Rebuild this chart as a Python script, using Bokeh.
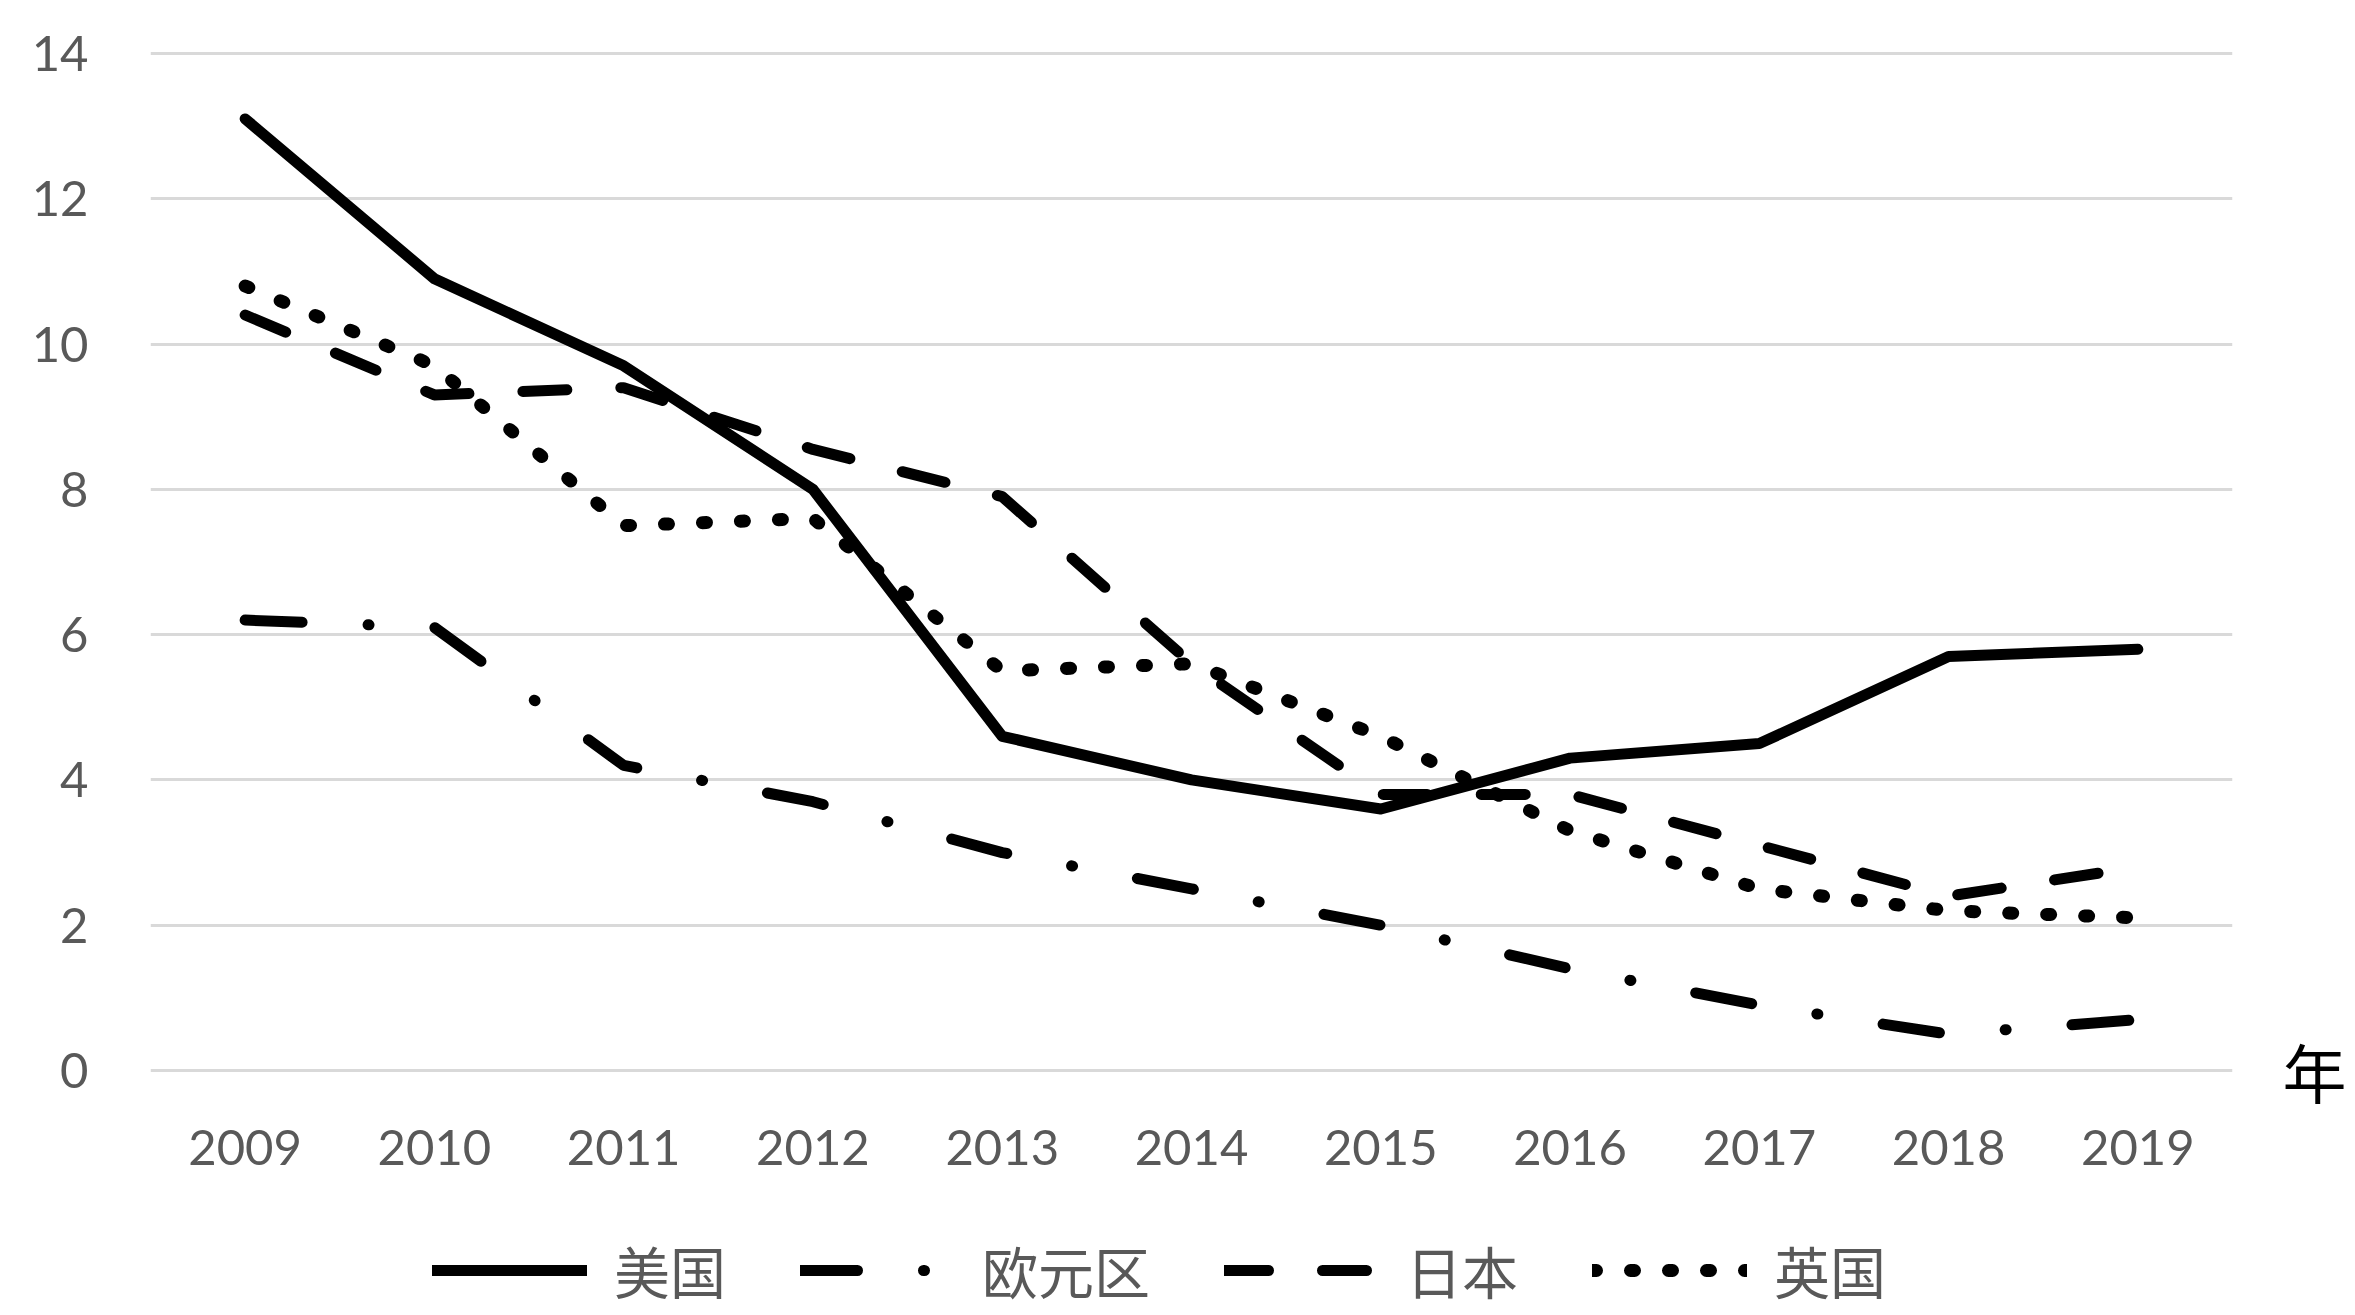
from bokeh.plotting import figure
from bokeh.layouts import column
from bokeh.models import (FactorRange, Range1d, Legend, LegendItem, LinearAxis,
                          FixedTicker, SingleIntervalTicker)
from bokeh.embed import file_html
from bokeh.resources import INLINE

years = ["2009", "2010", "2011", "2012", "2013", "2014", "2015", "2016", "2017", "2018", "2019"]
usa = [13.1, 10.9, 9.7, 8.0, 4.6, 4.0, 3.6, 4.3, 4.5, 5.7, 5.8]
euro = [6.2, 6.1, 4.2, 3.7, 3.0, 2.5, 2.0, 1.4, 0.9, 0.5, 0.7]
japan = [10.4, 9.3, 9.4, 8.55, 7.9, 5.6, 3.8, 3.8, 3.1, 2.4, 2.8]
uk = [10.8, 9.7, 7.5, 7.6, 5.5, 5.6, 4.6, 3.3, 2.5, 2.2, 2.1]
names = ["美国", "欧元区", "日本", "英国"]
unit_label = "年"

styles = [dict(line_width=11),
          dict(line_width=11, line_dash="57 66 1 66"),
          dict(line_width=11, line_dash="44 54"),
          dict(line_width=13, line_dash="4 34")]
common = dict(line_color="black", line_join="round", line_cap="round")

# small pad so the 0 and 14 gridlines are not clipped at the frame edges
pad = 2 / 72.64
p = figure(x_range=FactorRange(*years), y_range=Range1d(-pad, 14 + pad),
           frame_width=2082, frame_height=1021,
           min_border_left=150, min_border_right=115, min_border_top=51, min_border_bottom=113,
           output_backend="svg", toolbar_location=None, background_fill_color="white",
           border_fill_color="white")
p.outline_line_color = None
p.xgrid.visible = False
p.ygrid.grid_line_color = "#d9d9d9"
p.ygrid.grid_line_width = 3

for vals, st in zip([usa, euro, japan, uk], styles):
    p.line(years, vals, **common, **st)

# axes
p.yaxis.ticker = SingleIntervalTicker(interval=2, num_minor_ticks=0)
for ax in (p.xaxis[0], p.yaxis[0]):
    ax.axis_line_color = None
    ax.major_tick_line_color = None
    ax.minor_tick_line_color = None
    ax.major_label_text_font = "Lato"
    ax.major_label_text_font_size = "49px"
    ax.major_label_text_color = "#595959"
p.yaxis.major_label_standoff = 56
p.xaxis.major_label_standoff = 51

right = LinearAxis(ticker=FixedTicker(ticks=[0]), major_label_overrides={0: unit_label})
right.axis_line_color = None
right.major_tick_line_color = None
right.minor_tick_line_color = None
right.major_label_text_font = "Noto Sans CJK SC"
right.major_label_text_font_size = "64px"
right.major_label_text_color = "black"
right.major_label_standoff = 44
p.add_layout(right, "right")

# legend strip below the chart (its series lie outside its visible y-range)
q = figure(width=2347, height=125, x_range=FactorRange(*years), y_range=Range1d(100, 101),
           min_border=0, output_backend="svg", toolbar_location=None,
           background_fill_color="white", border_fill_color="white")
q.axis.visible = False
q.grid.visible = False
q.outline_line_color = None
items = []
for name, vals, st in zip(names, [usa, euro, japan, uk], styles):
    r = q.line(years, vals, **common, **st)
    items.append(LegendItem(label=name, renderers=[r]))
legend = Legend(items=items, orientation="horizontal", location=(282, 0),
                glyph_width=155, glyph_height=80, label_height=80,
                label_standoff=27, spacing=74, padding=0, margin=0,
                label_text_font="Noto Sans CJK SC", label_text_font_size="56px",
                label_text_color="#595959",
                border_line_color=None, background_fill_alpha=0)
q.add_layout(legend, "center")

layout = column(p, q, spacing=0)
open("out.html", "w").write(file_html(layout, INLINE))
